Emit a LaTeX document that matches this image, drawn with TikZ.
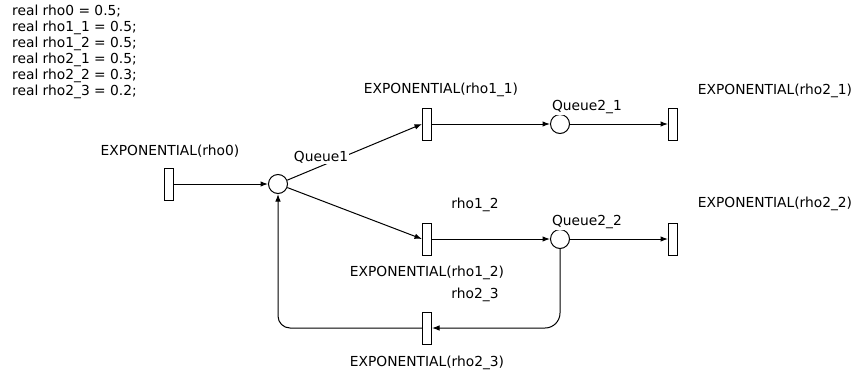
\documentclass[tikz,border=0pt]{standalone}
\usepackage{fontspec}
\setmainfont{DejaVu Sans}
\usetikzlibrary{arrows.meta}

\tikzset{
  trans/.style={draw, rectangle, line width=1pt, minimum width=9pt, minimum height=32pt, inner sep=0pt},
  place/.style={draw, circle, line width=1pt, minimum size=19pt, inner sep=0pt},
  arc/.style={line width=1pt, -{Latex[length=7.5pt,width=5.5pt]}},
  lbl/.style={inner sep=1pt, fill=white, font=\fontsize{13.8}{16}\selectfont}
}

\begin{document}
\begin{tikzpicture}[x=1pt, y=-1pt]
			%%%%% START %%%%%
			\useasboundingbox (0, 0) rectangle (856, 372);
			
			\node[lbl, anchor=north west, align=left] (decl) at (11, 4) {real rho0 = 0.5;\\ real rho1\_1 = 0.5;\\ real rho1\_2 = 0.5;\\ real rho2\_1 = 0.5;\\ real rho2\_2 = 0.3;\\ real rho2\_3 = 0.2;};
			
			\node[trans] (t0) at (169, 184) {};
			\node[place] (p1) at (278, 184) {};
			
			\node[trans] (t11) at (427, 124) {};
			\node[place] (p21) at (560, 124) {};
			\node[trans] (t21) at (673, 124) {};
			
			\node[trans] (t12) at (427, 239) {};
			\node[place] (p22) at (560, 239) {};
			\node[trans] (t22) at (673, 239) {};
			
			\node[trans] (t23) at (427, 328) {};
			
			\draw[arc] (t0) -- (p1);
			\draw[arc] (p1) -- (t11.west);
			\draw[arc] (p1) -- (t12.west);
			\draw[arc] (t11) -- (p21);
			\draw[arc] (p21) -- (t21.west);
			\draw[arc] (t12) -- (p22);
			\draw[arc] (p22) -- (t22.west);
			\draw[arc, rounded corners=15pt] (p22.south) |- (t23.east);
			\draw[arc, rounded corners=12pt] (t23.west) -| (p1.south);
			
			\node[lbl] (l0) at (170, 151) {EXPONENTIAL(rho0)};
			\node[lbl] (lq1) at (321, 157) {Queue1};
			\node[lbl] (l11) at (441, 90) {EXPONENTIAL(rho1\_1)};
			\node[lbl] (lq21) at (587, 107) {Queue2\_1};
			\node[lbl] (l21) at (775, 91) {EXPONENTIAL(rho2\_1)};
			\node[lbl] (lr12) at (475, 205) {rho1\_2};
			\node[lbl] (lq22) at (587, 222) {Queue2\_2};
			\node[lbl] (l22) at (775, 204) {EXPONENTIAL(rho2\_2)};
			\node[lbl] (l12) at (427, 273) {EXPONENTIAL(rho1\_2)};
			\node[lbl] (lr23) at (475, 295) {rho2\_3};
			\node[lbl] (l23) at (427, 363) {EXPONENTIAL(rho2\_3)};
			
			%%%%% END %%%%%
		\end{tikzpicture}
\end{document}
